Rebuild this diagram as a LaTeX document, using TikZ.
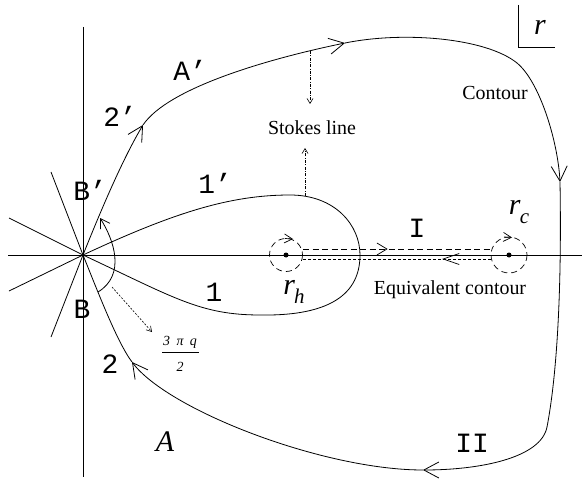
\documentclass[tikz,border=0pt]{standalone}
\usepackage{fontspec}
\setmainfont{Liberation Serif}
\newfontfamily\cour{Liberation Mono}
\usetikzlibrary{arrows.meta,decorations.markings}
\newcommand\monolab{\cour\fontsize{28}{30}\selectfont}
\newcommand\serlab{\fontsize{20}{24}\selectfont}
\newcommand\itlab{\itshape\fontsize{30}{32}\selectfont}
\newcommand\sublab{\itshape\fontsize{21}{22}\selectfont}
\begin{document}
\begin{tikzpicture}[x=1bp,y=-1bp,line width=0.8bp,
  every node/.style={inner sep=0pt,outer sep=0pt},
  barb/.style={-{Straight Barb[length=15bp,width=16bp]}},
  smallbarb/.style={-{Straight Barb[length=9bp,width=11bp]}},
  stokes/.style={line width=0.6bp,dash pattern=on 3bp off 1.5bp on 0.6bp off 1.5bp,-{Straight Barb[length=5bp,width=6bp]}},
  dotarrow/.style={line width=0.6bp,dash pattern=on 2bp off 1.5bp,-{Straight Barb[length=5bp,width=6bp]}},
  dcircle/.style={line width=0.7bp,dash pattern=on 6bp off 4bp},
  dline/.style={line width=0.7bp,dash pattern=on 6bp off 3.5bp},
  fline/.style={line width=0.7bp,dash pattern=on 3bp off 2bp}]
\useasboundingbox (0,0) rectangle (582,479);
% axes and star lines
\coordinate (O) at (83,255);
\coordinate (hl) at (8,255); \coordinate (hr) at (582,255);
\coordinate (vt) at (83,27); \coordinate (vb) at (83,477);
\coordinate (a1) at (9,218); \coordinate (a2) at (9,291);
\coordinate (a3) at (51,172); \coordinate (a4) at (51,337);
\draw (hl) -- (hr);
\draw (vt) -- (vb);
\draw (a1) -- (O); \draw (a2) -- (O); \draw (a3) -- (O); \draw (a4) -- (O);
% big contour
\coordinate (P1) at (143,125); \coordinate (P2) at (345,43);
\coordinate (Q) at (517,63); \coordinate (P3) at (560,182);
\coordinate (R) at (547,427); \coordinate (P4) at (423,470);
\coordinate (P5) at (132,362);
\draw[barb] (O) .. controls (105,200) and (125,155) .. (P1);
\draw[barb] (P1) .. controls (168,88) and (267,59) .. (P2);
\draw (P2) .. controls (404,31) and (486,38) .. (Q);
\draw[barb] (Q) .. controls (540,82) and (558,142) .. (P3);
\draw (P3) .. controls (562,300) and (556,380) .. (R);
\draw[barb] (R) .. controls (541,458) and (480,470) .. (P4);
\draw[barb] (P4) .. controls (323,470) and (168,410) .. (P5);
\draw (P5) .. controls (117,342) and (98,292) .. (O);
% inner loop
\coordinate (T) at (290,195); \coordinate (E) at (360,255); \coordinate (Bt) at (260,315);
\draw (O) .. controls (173.6,212.7) and (230,195) .. (T)
  .. controls (335,195) and (360,225) .. (E)
  .. controls (360,300) and (320,316) .. (Bt)
  .. controls (200,315) and (173.6,297.3) .. (O);
% small angle arc
\coordinate (arcS) at (98,292); \coordinate (arcE) at (100,218);
\draw[smallbarb] (arcS) .. controls (126,275) and (114,240) .. (arcE);
% Stokes line arrows
\coordinate (s1a) at (310,51); \coordinate (s1b) at (310,104);
\coordinate (s2a) at (305,196); \coordinate (s2b) at (305,148);
\draw[stokes] (s1a) -- (s1b);
\draw[stokes] (s2a) -- (s2b);
% angle label arrow
\coordinate (d1) at (112,287); \coordinate (d2) at (152,332);
\draw[dotarrow] (d1) -- (d2);
% equivalent contour
\node[circle,fill,minimum size=5bp] (rh) at (286,255) {};
\node[circle,fill,minimum size=5bp] (rc) at (509,255) {};
\draw[dcircle] (rh) circle[radius=16.5];
\draw[dcircle] (rc) circle[radius=18];
\coordinate (t1) at (303,249); \coordinate (t2) at (491,249);
\coordinate (b1) at (303,259); \coordinate (b2) at (491,259);
\draw[dline,postaction={decorate},decoration={markings,mark=at position 0.45 with {\arrow[line width=0.7bp]{Straight Barb[length=10bp,width=12bp]}}}] (t1) -- (t2);
\draw[fline,postaction={decorate},decoration={markings,mark=at position 0.26 with {\arrow[line width=0.7bp]{Straight Barb[length=16bp,width=11bp]}}}] (b2) -- (b1);
\coordinate (ch1) at (285,238.5); \coordinate (ch2) at (293,239);
\coordinate (cc1) at (504,237); \coordinate (cc2) at (512,237.5);
\draw[line width=0.7bp,-{Straight Barb[length=8bp,width=9bp]}] (ch1) -- (ch2);
\draw[line width=0.7bp,-{Straight Barb[length=8bp,width=9bp]}] (cc1) -- (cc2);
% r box
\coordinate (rb1) at (518,5); \coordinate (rb2) at (518,47); \coordinate (rb3) at (555,47);
\draw (rb1) -- (rb2) -- (rb3);
\node (rlab) at (540,27) {\itlab r};
% labels
\node (lAp) at (190,70) {\monolab A’};
\node (l2p) at (120,116) {\monolab 2’};
\node (lBp) at (90,190) {\monolab B’};
\node (lB) at (82,309) {\monolab B};
\node (l2) at (110,364) {\monolab 2};
\node (l1p) at (215,183) {\monolab 1’};
\node (l1) at (214,292) {\monolab 1};
\node (lI) at (417,228) {\monolab I};
\node (lII) at (472,443) {\monolab II};
\node (lA) at (165,442) {\itlab A};
\node (lrc) at (519,212) {\itlab r\kern-0.5bp\raisebox{-9bp}{\sublab c}};
\node (lrh) at (294,292) {\itlab r\kern-1bp\raisebox{-9bp}{\sublab h}};
\node (lstokes) at (312,128) {\serlab Stokes line};
\node (lcont) at (495,93) {\serlab Contour};
\node (lequiv) at (450,290) {\serlab Equivalent contour};
\node (fnum) at (180,342) {\itshape\fontsize{14}{16}\selectfont 3\hspace{3bp} π\hspace{3bp} q};
\node (fden) at (180,367) {\itshape\fontsize{14}{16}\selectfont 2};
\coordinate (fb1) at (162,352); \coordinate (fb2) at (199,352);
\draw[line width=0.7bp] (fb1) -- (fb2);
\end{tikzpicture}
\end{document}
